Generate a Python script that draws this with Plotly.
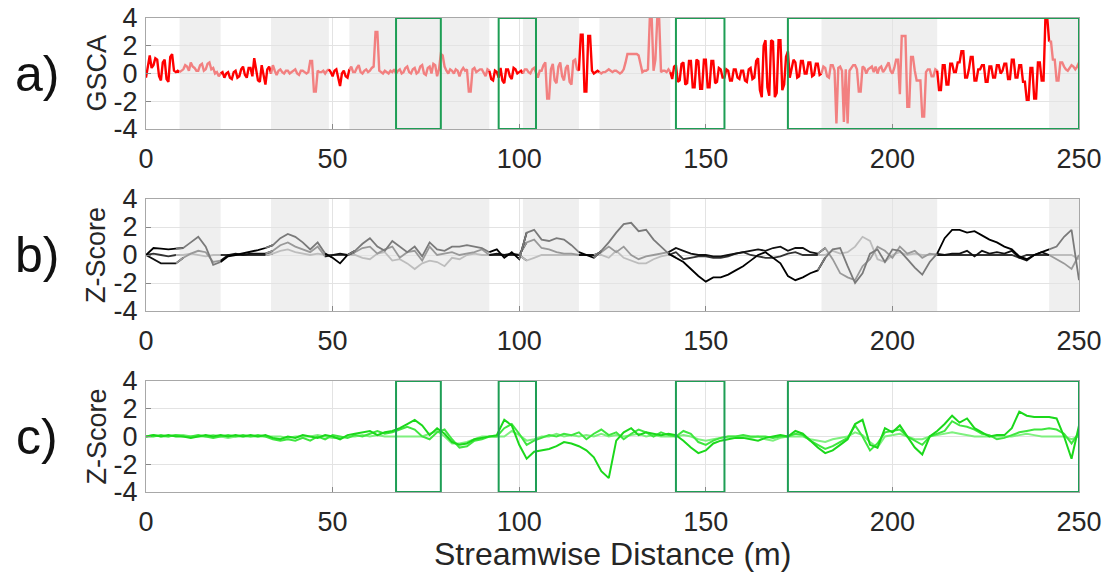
import plotly.graph_objects as go

# ---------------- data ----------------
DIST_A = [i / 2 for i in range(0, 501)]   # streamwise distance (m), panel a (0.5 m step)
GSCA = [
    -0.3, 0.6, 1.3, 0.4, 0.6, 1.1, 1.0, -0.2, -0.5, 0.8,
    1.0, -0.4, -0.6, 1.2, 1.4, 0.2, 0.1, 0.2, 0.1, 0.2,
    0.3, 0.6, 0.5, 0.2, 0.8, 0.5, 0.4, 0.2, 0.2, 0.6,
    0.7, 0.2, 0.3, 0.7, 0.8, 0.3, 0.4, 0.0, 0.1, -0.2,
    0.0, 0.1, -0.3, 0.0, 0.1, -0.3, -0.4, 0.1, 0.2, -0.3,
    -0.2, 0.3, 0.5, -0.1, -0.3, 0.4, 0.4, -0.2, 1.1, 0.2,
    -0.5, -0.6, 0.6, -0.1, -0.8, 0.3, 0.5, 0.0, 0.6, 0.2,
    -0.1, 0.2, 0.3, 0.1, 0.0, 0.2, 0.2, 0.0, 0.1, 0.2,
    0.3, 0.0, -0.1, 0.2, 0.2, 0.1, 0.0, 0.1, 0.9, 0.9,
    -1.3, -1.3, 0.2, 0.1, 0.1, 0.2, 0.0, 0.2, 0.3, 0.1,
    -0.2, 0.2, 0.3, -0.3, -0.9, 0.0, 0.2, -0.2, -0.3, 0.3,
    0.5, 0.1, 0.1, 0.4, 0.6, 0.1, 0.0, 0.2, 0.3, 0.1,
    0.2, 0.4, 0.5, 3.0, 3.0, 0.2, 0.1, 0.0, 0.2, 0.1,
    0.0, 0.2, 0.1, 0.3, 0.0, 0.2, 0.3, 0.0, 0.1, 0.4,
    0.5, 0.1, 0.0, 0.3, 0.4, 0.0, 0.1, 0.5, 0.6, 0.0,
    -0.1, 0.4, 0.5, 0.0, 0.7, 0.6, -0.2, 0.3, 1.4, 1.3,
    0.5, 0.2, 0.0, 0.3, 0.2, 0.0, 0.3, 0.2, -0.2, 0.2,
    0.4, 0.2, 0.3, -1.3, -1.3, 0.3, 0.4, 0.1, 0.2, 0.3,
    0.3, 0.0, -0.2, 0.3, 0.2, -0.4, -0.5, 0.2, 0.1, -0.3,
    0.4, -0.5, -0.7, 0.3, 0.3, -0.2, -0.4, 0.4, 0.3, 0.0,
    0.1, 0.2, 0.0, 0.3, 0.3, 0.1, 0.0, 0.3, 0.4, 0.1,
    -0.3, 0.2, 0.2, 0.6, 0.8, -1.8, -1.8, 0.3, 0.7, -0.5,
    -0.7, 0.5, 0.8, -0.2, -0.5, 0.4, 0.6, -0.6, -0.8, 0.9,
    1.0, 0.3, 0.2, 2.8, 2.8, -1.3, -1.3, 2.7, 2.7, 0.2,
    0.0, 0.1, 0.2, 0.1, 0.0, 0.1, 0.1, 0.2, 0.3, 0.2,
    0.1, 0.2, 0.2, 0.1, 0.0, 0.1, 0.3, 0.8, 1.4, 1.4,
    1.4, 1.4, 1.4, 1.4, 1.3, 0.8, 0.1, 0.2, 0.2, 0.3,
    4.0, 4.0, 0.2, 1.0, 4.0, 4.0, 0.1, 0.2, 0.2, 0.1,
    0.3, 0.1, -0.4, 0.5, 0.6, -0.6, -0.5, 0.7, 0.8, -0.8,
    -0.7, 0.9, 0.9, -1.0, -1.0, 1.0, 0.9, -1.1, -1.1, 1.0,
    1.0, -1.0, -1.0, 0.9, 0.9, -0.7, -0.6, 0.4, 0.3, -0.3,
    -0.3, 0.3, 0.2, -0.5, -0.5, 0.3, 0.3, -0.3, -0.4, 0.2,
    0.2, -0.5, -0.6, 0.3, 0.4, -0.4, -0.3, 0.9, 1.1, -1.2,
    -1.7, 2.0, 2.4, -1.0, -1.6, 2.4, 2.3, -1.7, -1.4, 2.4,
    2.4, -1.2, -0.8, 1.2, 1.6, -0.3, 0.3, 1.0, 0.8, -0.3,
    -0.2, 0.9, 0.9, 0.0, 0.0, 0.8, 0.8, -0.2, -0.1, 0.7,
    0.7, -0.1, 0.0, 0.5, 0.4, -0.2, -0.3, 0.6, 0.6, 0.2,
    -3.6, 0.4, 0.5, 0.2, -3.5, 0.3, -3.6, 0.2, 0.4, 0.6,
    0.6, 0.3, -1.3, -1.3, 0.5, 0.4, 0.0, 0.3, 0.4, 0.5,
    0.1, 0.5, 0.0, 0.4, 0.5, 0.1, 0.3, 0.6, 0.8, 0.2,
    0.0, 0.4, 1.0, 1.0, -1.5, 2.7, 2.7, 2.7, -2.4, -2.4,
    1.2, 1.2, 0.2, -0.5, -0.5, -0.5, -3.1, -3.1, 0.1, 0.3,
    0.3, -0.2, -0.2, 0.3, 0.2, -1.2, -1.2, 0.6, 0.6, -0.8,
    -0.8, 0.7, 0.7, 0.1, 0.1, 0.8, 0.8, 1.6, 1.6, -0.3,
    -0.3, 0.3, 1.2, 1.2, -0.5, -0.5, 0.3, 0.3, 0.6, 0.6,
    -0.6, -0.6, 0.5, 0.5, -0.3, -0.3, 0.6, 0.6, 0.0, 0.2,
    0.7, 0.7, -0.4, -0.4, 1.0, 1.0, -0.3, -0.3, 0.6, 0.6,
    -0.6, -0.6, -1.9, -1.9, 0.4, 0.4, -1.8, -1.8, 0.8, 0.8,
    -0.5, -0.5, 4.0, 4.0, 2.3, 2.3, 1.0, 1.0, -0.5, -0.5,
    0.8, 0.8, 0.5, 0.3, 0.2, 0.4, 0.6, 0.5, 0.3, 0.5,
    0.8,
]

DIST_BC = list(range(0, 251, 2))      # streamwise distance (m), panels b & c
ZB_1 = [
    0.0, 0.5, 0.45, 0.4, 0.45, 0.5, 0.9, 1.3, 0.6, -0.7,
    -0.5, -0.1, 0.0, 0.1, 0.2, 0.35, 0.5, 0.7, 1.2, 1.5,
    1.3, 0.9, 0.4, 0.9, 0.1, -0.2, -0.6, 0.0, 0.3, 0.8,
    1.2, 0.6, 0.3, 1.0, 0.6, 0.2, 0.6, -0.1, 0.9, 0.4,
    0.3, 0.6, 0.6, 0.7, 0.6, 0.5, 0.2, 0.4, -0.2, 0.2,
    -0.3, 1.6, 1.8, 1.1, 1.0, 1.2, 1.1, 0.7, 0.2, 0.0,
    -0.2, 0.3, 0.9, 1.6, 2.2, 2.3, 1.7, 1.8, 1.1, 0.6,
    0.1, -0.2, -0.5, -1.0, -1.5, -1.9, -1.6, -1.6, -1.4, -1.1,
    -0.8, -0.4, 0.0, 0.2, -0.2, -0.6, -1.5, -1.8, -1.6, -1.3,
    -1.1, -0.2, 0.4, 0.5, -0.8, -2.0, -1.3, 0.1, 0.4, -0.5,
    0.4, 0.3, -0.3, -0.9, -1.4, -0.5, 0.1, 1.2, 1.8, 1.8,
    1.6, 1.7, 1.4, 1.1, 0.9, 0.6, 0.4, -0.1, -0.3, 0.0,
    0.2, 0.4, 0.6, 1.3, 1.8, -1.8,
]
ZB_2 = [
    0.0, -0.3, -0.6, -0.6, -0.6, -0.2, 0.1, 0.3, 0.2, -0.5,
    -0.4, 0.0, 0.1, 0.0, 0.1, 0.1, 0.1, 0.3, 0.7, 0.9,
    0.6, 0.4, 0.2, 0.6, -0.1, 0.0, 0.1, 0.0, 0.2, 0.5,
    0.6, 0.1, 0.4, 0.6, -0.2, 0.2, 0.3, -0.4, 0.6, 0.0,
    0.1, 0.2, 0.0, 0.1, 0.2, 0.4, 0.0, 0.1, 0.0, 0.1,
    0.0, 0.9, 1.1, 0.5, 0.4, 0.2, 0.1, 0.1, 0.0, 0.0,
    0.0, 0.2, 0.6, 0.2, 0.6, 0.0, -0.3, -0.1, 0.0, 0.1,
    0.2, 0.5, 0.3, 0.1, 0.0, 0.0, -0.1, -0.1, 0.0, 0.1,
    0.2, 0.3, 0.4, 0.3, 0.5, 0.6, 0.3, 0.5, 0.5, 0.2,
    0.1, 0.5, -0.3, -1.3, -1.6, -1.8, -0.8, -0.3, 0.6, 0.3,
    -0.2, 0.6, 0.1, 0.3, -0.2, 0.1, 0.0, 0.0, 0.1, 0.1,
    0.3, -0.1, 0.3, 0.1, 0.2, 0.1, 0.3, -0.2, -0.4, 0.0,
    0.2, 0.0, -0.3, -0.6, -1.0, 0.0,
]
ZB_3 = [
    0.0, 0.1, 0.0, -0.1, 0.0, 0.0, 0.1, 0.0, -0.1, 0.0,
    0.0, 0.0, 0.0, 0.0, 0.0, 0.0, 0.0, 0.1, 0.3, 0.4,
    0.2, 0.1, 0.0, 0.1, 0.0, 0.0, 0.0, 0.0, 0.0, -0.2,
    -0.3, 0.1, 0.2, -0.4, -0.3, -0.6, -1.0, -0.6, -0.4, -0.5,
    -0.8, -0.2, -0.3, 0.0, 0.1, 0.0, 0.0, 0.0, 0.0, 0.0,
    0.0, -0.4, -0.2, 0.0, 0.0, 0.0, 0.0, 0.0, 0.0, 0.0,
    0.0, 0.0, -0.2, 0.3, -0.2, -0.4, -0.6, -0.6, -0.3, -0.1,
    0.0, 0.2, -0.3, -0.2, -0.1, -0.1, -0.2, -0.2, -0.1, 0.1,
    0.2, 0.0, -0.1, -0.2, -0.2, -0.1, 0.1, 0.2, 0.0, 0.0,
    0.0, 0.0, 0.3, 0.1, 0.2, 0.6, 1.3, 1.0, -0.3, -0.5,
    0.0, 0.2, 0.0, 0.1, 0.0, 0.0, 0.1, 0.0, 0.0, 0.0,
    0.0, 0.0, 0.0, 0.0, 0.0, 0.0, 0.0, -0.2, 0.0, 0.0,
    0.0, 0.0, 0.0, 0.0, 0.0, -0.3,
]

ZC_1 = [
    0.0, 0.1, 0.0, 0.1, 0.0, 0.0, -0.1, 0.0, 0.1, 0.0,
    0.1, 0.0, 0.1, 0.0, 0.1, 0.0, 0.1, -0.1, -0.2, 0.0,
    -0.1, 0.1, 0.0, -0.1, 0.1, 0.0, -0.2, 0.1, 0.2, 0.3,
    0.4, 0.1, 0.3, 0.4, 0.6, 0.9, 1.2, 0.8, 0.1, 0.6,
    0.2, -0.4, -0.6, -0.5, -0.2, -0.1, 0.0, 0.1, 1.2, 0.8,
    -0.6, -1.6, -1.1, -1.0, -0.9, -0.7, -0.4, -0.5, -0.7, -1.0,
    -1.5, -2.5, -3.0, -0.3, 0.3, 0.6, 0.1, 0.3, 0.2, 0.1,
    0.2, 0.1, -0.3, -0.8, -1.2, -1.0, -0.5, -0.3, -0.2, -0.1,
    -0.1, -0.2, -0.3, -0.1, 0.0, 0.1, 0.0, 0.4, 0.2, -0.3,
    -0.8, -1.2, -1.0, -0.6, -0.2, 0.9, 1.2, -0.6, -0.8, 0.6,
    0.3, 0.8, 0.0, -0.8, -1.3, 0.0, 0.4, 0.9, 1.5, 1.0,
    1.3, 0.6, 0.3, 0.0, 0.1, 0.1, 0.6, 1.8, 1.5, 1.4,
    1.4, 1.4, 1.3, 0.0, -1.6, 0.8,
]
ZC_2 = [
    0.0, 0.0, 0.1, 0.0, 0.1, 0.0, 0.0, 0.1, 0.0, -0.1,
    0.0, 0.1, 0.0, 0.1, 0.0, 0.1, 0.0, -0.2, -0.3, -0.2,
    -0.3, -0.1, -0.3, 0.0, -0.2, 0.1, 0.0, -0.1, 0.1, 0.0,
    0.2, 0.4, 0.2, 0.3, 0.5, 0.7, 0.5, 0.0, -0.2, 0.3,
    0.5, -0.2, -0.8, -0.7, -0.3, -0.2, 0.0, 0.0, 0.6, 0.9,
    0.2, -0.6, -0.3, -0.1, 0.1, 0.0, 0.2, 0.1, 0.3, -0.2,
    0.2, 0.5, 0.1, 0.3, -0.2, 0.2, 0.5, 0.3, 0.0, 0.3,
    0.1, 0.0, 0.4, 0.2, -0.4, -0.6, -0.3, -0.1, 0.0, 0.0,
    0.1, 0.0, 0.0, 0.0, -0.1, 0.0, 0.0, 0.2, 0.1, -0.3,
    -0.6, -0.9, -0.7, -0.4, -0.1, 0.8, 0.0, -1.0, -0.5, 0.3,
    0.4, 0.5, 0.0, -0.3, -0.6, 0.0, 0.2, 0.4, 1.1, 0.8,
    0.7, 0.5, 0.2, 0.1, -0.2, -0.1, 0.1, 0.3, 0.4, 0.5,
    0.5, 0.6, 0.5, 0.2, -0.5, 0.3,
]
ZC_3 = [
    0.0, 0.1, 0.0, 0.0, 0.1, 0.1, 0.0, 0.0, 0.0, 0.1,
    0.0, -0.1, 0.0, 0.0, 0.0, 0.0, 0.0, 0.0, 0.0, -0.1,
    0.0, 0.0, 0.0, 0.1, 0.0, -0.1, -0.1, 0.0, 0.0, 0.1,
    0.0, 0.1, 0.0, 0.0, 0.0, 0.0, 0.0, 0.0, 0.2, 0.4,
    0.0, -0.5, -0.5, -0.4, -0.2, 0.0, 0.0, 0.0, 0.0, 0.4,
    0.1, -0.3, -0.2, 0.0, 0.0, 0.2, 0.0, 0.1, 0.0, 0.1,
    0.0, 0.2, 0.0, 0.1, 0.0, 0.1, 0.2, 0.0, 0.1, 0.0,
    0.0, 0.0, 0.1, 0.0, -0.2, -0.3, -0.2, -0.1, 0.0, 0.0,
    0.0, -0.1, 0.0, -0.2, -0.3, -0.1, 0.0, 0.0, 0.0, -0.2,
    -0.3, -0.4, -0.2, -0.1, 0.0, 0.3, 0.1, -0.4, -0.8, 0.0,
    0.1, 0.2, 0.0, -0.2, -0.2, 0.0, 0.1, 0.2, 0.3, 0.2,
    0.1, 0.0, 0.0, 0.0, 0.0, 0.0, 0.0, 0.1, 0.2, 0.1,
    0.0, 0.0, 0.0, 0.0, -0.2, 0.0,
]

SHADED = [(9, 20), (33.5, 49), (54.5, 92), (101, 116), (121.5, 140.5), (181, 212), (242, 250)]
BOXES = [(67, 79), (94.5, 104.5), (142, 155), (172, 250)]
XTICKS = [0, 50, 100, 150, 200, 250]
YTICKS = [-4, -2, 0, 2, 4]
YTICKTEXT = ["-4", "-2", "0", "2", "4"]

for arr, xs in [(GSCA, DIST_A), (ZB_1, DIST_BC), (ZB_2, DIST_BC), (ZB_3, DIST_BC),
                (ZC_1, DIST_BC), (ZC_2, DIST_BC), (ZC_3, DIST_BC)]:
    assert len(arr) == len(xs), (len(arr), len(xs))

# ---------------- helpers ----------------
FONT = "Liberation Sans, Arial, sans-serif"
TXT = "#262626"
W, H = 1110, 575
OFF = 8   # page body margin
XL, XR = 146 - OFF, 1079 - OFF
PANELS = {"a": (18 - OFF, 129 - OFF), "b": (199 - OFF, 311 - OFF), "c": (381 - OFF, 492 - OFF)}


def py(px):
    return 1 - px / H


def regions():
    out, prev = [], 0
    for s, e in SHADED:
        if s > prev:
            out.append((prev, s, False))
        out.append((s, e, True))
        prev = e
    if prev < 250:
        out.append((prev, 250, False))
    return out


def split(xs, ys):
    res = []
    for s, e, sh in regions():
        lo = max(i for i, v in enumerate(xs) if v <= s)
        hi = min(i for i, v in enumerate(xs) if v >= e)
        res.append((xs[lo:hi + 1], ys[lo:hi + 1], sh))
    return res


fig = go.Figure()

# panel a
for sx, sy, sh in split(DIST_A, GSCA):
    fig.add_trace(go.Scatter(x=sx, y=sy, mode="lines", xaxis="x", yaxis="y",
                             line=dict(color="#f28080" if sh else "#ff0000", width=2.4),
                             showlegend=False, hoverinfo="skip"))

# panel b
b_cols = [("#000000", "#7a7a7a"), ("#111111", "#999999"), ("#333333", "#bdbdbd")]
for arr, (cu, cs) in zip([ZB_3, ZB_2, ZB_1], b_cols[::-1]):
    for sx, sy, sh in split(DIST_BC, arr):
        fig.add_trace(go.Scatter(x=sx, y=sy, mode="lines", xaxis="x2", yaxis="y2",
                                 line=dict(color=cs if sh else cu, width=1.8),
                                 showlegend=False, hoverinfo="skip"))

# panel c
for arr, col in [(ZC_3, "#7ef07e"), (ZC_2, "#3fe63f"), (ZC_1, "#1bd81b")]:
    fig.add_trace(go.Scatter(x=DIST_BC, y=arr, mode="lines", xaxis="x3", yaxis="y3",
                             line=dict(color=col, width=2.0),
                             showlegend=False, hoverinfo="skip"))

shapes = []
for ax in ["", "2"]:
    for s, e in SHADED:
        shapes.append(dict(type="rect", xref="x" + ax, yref="y" + ax + " domain",
                           x0=s, x1=e, y0=0, y1=1, fillcolor="#efefef",
                           line=dict(width=0), layer="below"))
for ax in ["", "3"]:
    for s, e in BOXES:
        shapes.append(dict(type="rect", xref="x" + ax, yref="y" + ax,
                           x0=s, x1=e, y0=-4, y1=4, fillcolor="rgba(0,0,0,0)",
                           line=dict(color="#1e9e55", width=2), layer="above"))

xdom = [XL / W, XR / W]


def xaxis(anchor):
    return dict(domain=xdom, range=[0, 250], anchor=anchor, tickvals=XTICKS,
                automargin=False, ticklabeloverflow="allow",
                showgrid=True, gridcolor="#e3e3e3", gridwidth=1, zeroline=False,
                showline=True, linecolor="#a8a8a8", linewidth=1, mirror=True,
                ticks="inside", ticklen=5, tickcolor="#888888",
                tickfont=dict(family=FONT, size=27, color=TXT), ticklabelstandoff=6)


def yaxis(anchor, p):
    t, b = PANELS[p]
    return dict(domain=[py(b), py(t)], range=[-4, 4], anchor=anchor,
                tickvals=YTICKS, ticktext=YTICKTEXT, automargin=False,
                ticklabeloverflow="allow",
                showgrid=True, gridcolor="#e3e3e3", gridwidth=1, zeroline=False,
                showline=True, linecolor="#a8a8a8", linewidth=1, mirror=True,
                ticks="inside", ticklen=5, tickcolor="#888888",
                tickfont=dict(family=FONT, size=27, color=TXT), ticklabelstandoff=2)


annotations = []
for p, title in [("a", "GSCA"), ("b", "Z-Score"), ("c", "Z-Score")]:
    t, b = PANELS[p]
    mid = (t + b) / 2
    annotations.append(dict(text=p + ")", x=(37 - OFF) / W, y=py(mid), xref="paper", yref="paper",
                            showarrow=False, font=dict(family=FONT, size=50, color="#111111"),
                            xanchor="center", yanchor="middle"))
    annotations.append(dict(text=title, x=(96 - OFF) / W, y=py(mid), xref="paper", yref="paper",
                            showarrow=False, textangle=-90,
                            font=dict(family=FONT, size=27, color=TXT),
                            xanchor="center", yanchor="middle"))
annotations.append(dict(text="Streamwise Distance (m)", x=(XL + XR) / 2 / W, y=py(554 - OFF),
                        xref="paper", yref="paper", showarrow=False,
                        font=dict(family=FONT, size=32, color=TXT),
                        xanchor="center", yanchor="middle"))

fig.update_layout(
    width=W, height=H, margin=dict(l=0, r=0, t=0, b=0, autoexpand=False),
    paper_bgcolor="white", plot_bgcolor="white",
    xaxis=xaxis("y"), yaxis=yaxis("x", "a"),
    xaxis2=xaxis("y2"), yaxis2=yaxis("x2", "b"),
    xaxis3=xaxis("y3"), yaxis3=yaxis("x3", "c"),
    shapes=shapes, annotations=annotations, showlegend=False,
)

fig.write_html("out.html")
